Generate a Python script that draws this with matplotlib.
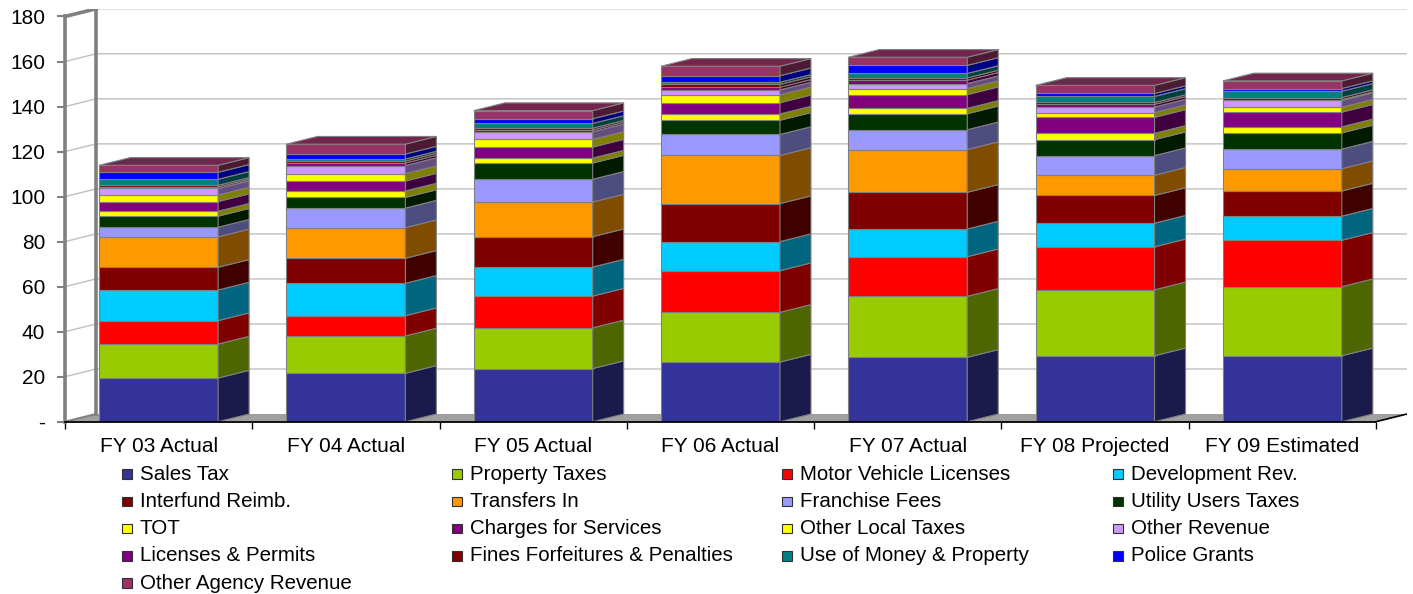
import matplotlib
matplotlib.use("Agg")
import matplotlib.pyplot as plt
from matplotlib.patches import Polygon, Rectangle
from matplotlib.lines import Line2D
from matplotlib.colors import to_rgb
import numpy as np

plt.rcParams['font.family'] = ['Liberation Sans', 'DejaVu Sans']

years = ["FY 03 Actual", "FY 04 Actual", "FY 05 Actual", "FY 06 Actual",
         "FY 07 Actual", "FY 08 Projected", "FY 09 Estimated"]

# Revenue by source, $ millions, bottom of the stack first
sales_tax        = [19.4, 21.5, 23.6, 26.5, 28.6, 29.3, 29.3]
property_taxes   = [15.1, 16.6, 18.1, 22.1, 27.1, 29.3, 30.7]
motor_vehicle    = [10.4,  9.0, 14.1, 18.5, 17.6, 19.1, 20.6]
development_rev  = [13.6, 14.4, 12.9, 12.9, 12.3, 10.5, 10.7]
interfund_reimb  = [10.1, 11.1, 13.5, 16.9, 16.3, 12.3, 11.2]
transfers_in     = [13.5, 13.6, 15.4, 21.4, 19.0,  9.0,  9.9]
franchise_fees   = [ 4.3,  8.7, 10.1,  9.3,  8.8,  8.7,  8.7]
utility_users    = [ 4.9,  4.7,  7.2,  6.3,  7.1,  7.1,  7.2]
tot              = [ 2.2,  2.9,  2.2,  2.8,  2.4,  2.8,  2.7]
charges_services = [ 4.3,  4.4,  4.9,  5.0,  6.1,  7.1,  6.5]
other_local      = [ 2.9,  3.3,  3.4,  3.5,  2.7,  2.1,  2.2]
other_revenue    = [ 2.9,  3.6,  3.4,  2.2,  2.2,  2.5,  3.0]
licenses_permits = [ 0.7,  1.1,  0.8,  1.2,  1.5,  1.2,  0.4]
fines_penalties  = [ 0.7,  0.9,  0.8,  1.2,  1.0,  0.8,  0.9]
use_of_money     = [ 2.7,  0.9,  2.1,  1.0,  2.0,  2.7,  2.8]
police_grants    = [ 3.1,  2.2,  2.1,  2.9,  3.6,  1.3,  1.2]
other_agency     = [ 3.1,  4.4,  3.6,  4.2,  3.6,  3.6,  3.4]

series_names = ["Sales Tax", "Property Taxes", "Motor Vehicle Licenses", "Development Rev.",
                "Interfund Reimb.", "Transfers In", "Franchise Fees", "Utility Users Taxes",
                "TOT", "Charges for Services", "Other Local Taxes", "Other Revenue",
                "Licenses & Permits", "Fines Forfeitures & Penalties", "Use of Money & Property",
                "Police Grants", "Other Agency Revenue"]
series_values = [sales_tax, property_taxes, motor_vehicle, development_rev,
                 interfund_reimb, transfers_in, franchise_fees, utility_users,
                 tot, charges_services, other_local, other_revenue,
                 licenses_permits, fines_penalties, use_of_money,
                 police_grants, other_agency]
series_colors = ["#333399", "#99CC00", "#FF0000", "#00CCFF",
                 "#800000", "#FF9900", "#9999FF", "#003300",
                 "#FFFF00", "#800080", "#FFFF00", "#CC99FF",
                 "#800080", "#800000", "#008080", "#0000FF", "#993366"]

y_ticks = [0, 20, 40, 60, 80, 100, 120, 140, 160, 180]
y_tick_labels = ["-", "20", "40", "60", "80", "100", "120", "140", "160", "180"]


def shade(color, f):
    r, g, b = to_rgb(color)
    return (r * f, g * f, b * f)


W_PX, H_PX = 1413, 594
fig = plt.figure(figsize=(W_PX / 100, H_PX / 100), dpi=100)

# depth of the 3-D box, in data units
DX, DY = 0.1655, 3.42
BAR_W = 0.635
n = len(years)
x = np.arange(n)
xmin, xmax = -0.5, n - 0.5
ymax = 180

left_px, right_px, bottom_px, top_px = 65, 1407, 421.7, 8.8
ax = fig.add_axes([left_px / W_PX, 1 - bottom_px / H_PX,
                   (right_px - left_px) / W_PX, (bottom_px - top_px) / H_PX])
ax.set_xlim(xmin, xmax + DX)
ax.set_ylim(0, ymax + DY)
ax.patch.set_visible(False)

EDGE = "#808080"

# floor
ax.add_patch(Polygon([(xmin, 0), (xmax, 0), (xmax + DX, DY), (xmin + DX, DY)],
                     closed=True, facecolor="#a0a0a0", edgecolor="none", zorder=1))

# gridlines on the side wall and back wall
for v in y_ticks[1:]:
    ax.add_line(Line2D([xmin, xmin + DX, xmax + DX], [v, v + DY, v + DY],
                       color="#c0c0c0", lw=1.0, zorder=1))

# side wall outline
ax.add_line(Line2D([xmin + DX, xmin + DX], [DY, ymax + DY], color=EDGE, lw=2.6, zorder=2))
ax.add_line(Line2D([xmin, xmin + DX], [ymax, ymax + DY], color=EDGE, lw=2.6, zorder=2))
ax.add_line(Line2D([xmin, xmin + DX], [0, DY], color=EDGE, lw=1.5, zorder=2))
# right edge of the floor
ax.add_line(Line2D([xmax, xmax + DX], [0, DY], color="black", lw=1.2, zorder=3))

# stacked 3-D columns
bottoms = np.zeros(n)
for name, vals, col in zip(series_names, series_values, series_colors):
    vals = np.asarray(vals, dtype=float)
    ax.bar(x, vals, bottom=bottoms, width=BAR_W, color=col, edgecolor=EDGE,
           linewidth=0.8, zorder=4)
    side = shade(col, 0.5)
    for xi, b, v in zip(x, bottoms, vals):
        xr = xi + BAR_W / 2
        ax.add_patch(Polygon([(xr, b), (xr + DX, b + DY), (xr + DX, b + v + DY), (xr, b + v)],
                             closed=True, facecolor=side, edgecolor=EDGE, lw=0.8, zorder=4))
    bottoms = bottoms + vals

# top faces of the columns
top_col = shade(series_colors[-1], 0.75)
for xi, t in zip(x, bottoms):
    xl, xr = xi - BAR_W / 2, xi + BAR_W / 2
    ax.add_patch(Polygon([(xl, t), (xr, t), (xr + DX, t + DY), (xl + DX, t + DY)],
                         closed=True, facecolor=top_col, edgecolor=EDGE, lw=0.8, zorder=4))

# axes
for s in ["top", "right"]:
    ax.spines[s].set_visible(False)
ax.spines["left"].set_color(EDGE)
ax.spines["left"].set_linewidth(2.6)
ax.spines["left"].set_bounds(0, ymax)
ax.spines["left"].set_zorder(5)
ax.spines["bottom"].set_color("black")
ax.spines["bottom"].set_linewidth(1.3)
ax.spines["bottom"].set_bounds(xmin, xmax)
ax.spines["bottom"].set_zorder(5)

ax.set_yticks(y_ticks)
ax.set_yticklabels(y_tick_labels, fontsize=15)
ax.tick_params(axis="y", length=5.8, width=1.5, color=EDGE, pad=8.5, labelcolor="black")

ax.set_xticks(np.arange(xmin, xmax + 0.01, 1.0))
ax.set_xticklabels([])
ax.tick_params(axis="x", which="major", length=5.2, width=1.0, color="black")
ax.set_xticks(x, minor=True)
ax.set_xticklabels(years, minor=True, fontsize=15)
ax.tick_params(axis="x", which="minor", length=0, pad=11)

# legend, four columns read left to right
col_x = [127, 457, 787, 1118]
row_y = [474, 501.3, 528.6, 555.9, 583.2]
sw = 9.5
for i, (name, col) in enumerate(zip(series_names, series_colors)):
    r, c = divmod(i, 4)
    cx, cy = col_x[c], row_y[r]
    fig.add_artist(Rectangle(((cx - sw / 2) / W_PX, 1 - (cy + sw / 2) / H_PX),
                             sw / W_PX, sw / H_PX, transform=fig.transFigure,
                             facecolor=col, edgecolor="#303030", lw=0.8))
    fig.text((cx + 13) / W_PX, 1 - cy / H_PX, name, fontsize=14.8,
             ha="left", va="center")

fig.savefig("out.png", dpi=100)
